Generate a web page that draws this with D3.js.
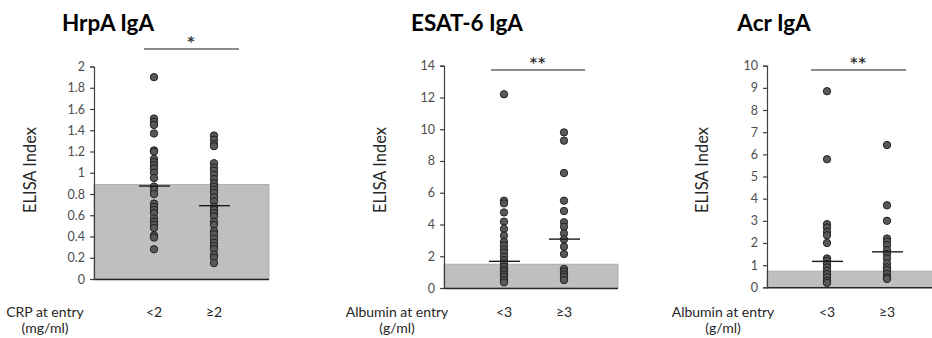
<!DOCTYPE html>
<html>
<head>
<meta charset="utf-8">
<title>IgA ELISA index</title>
<style>
  body { margin: 0; background: #fff; font-family: Lato, "Open Sans", sans-serif; }
  svg text { font-family: Lato, "Open Sans", sans-serif; }
  .tick text { fill: #4d4d4d; font-size: 12.5px; }
</style>
</head>
<body>
<div id="chart"></div>
<script src="https://cdn.jsdelivr.net/npm/d3@7"></script>
<script>
// ---- data ----
var titles = ["HrpA IgA", "ESAT-6 IgA", "Acr IgA"]
var groupLabels = [["<2", "\u22652"], ["<3", "\u22653"], ["<3", "\u22653"]]
var xTitles = [["CRP at entry", "(mg/ml)"], ["Albumin at entry", "(g/ml)"], ["Albumin at entry", "(g/ml)"]]
var yMax = [2, 14, 10]
var yStep = [0.2, 2, 1]
var cutoff = [0.89, 1.5, 0.73]
var stars = ["*", "**", "**"]

var hrpaLow = [1.9, 1.51, 1.48, 1.45, 1.37, 1.21, 1.2, 1.13, 1.1, 1.07, 1.04, 1.0, 0.95, 0.87, 0.84, 0.8,
  0.71, 0.68, 0.65, 0.62, 0.57, 0.54, 0.51, 0.48, 0.41, 0.39, 0.28]
var hrpaHigh = [1.35, 1.31, 1.27, 1.25, 1.09, 1.05, 1.02, 0.98, 0.94, 0.9, 0.87, 0.84, 0.81, 0.77, 0.73,
  0.68, 0.65, 0.62, 0.59, 0.54, 0.51, 0.45, 0.42, 0.38, 0.34, 0.31, 0.28, 0.23, 0.2, 0.15]
var esatLow = [12.2, 5.5, 5.33, 4.76, 4.18, 3.72, 3.3, 2.92, 2.67, 2.43, 2.22, 1.97, 1.76, 1.55, 1.34,
  1.15, 1.03, 0.85, 0.71, 0.5, 0.36]
var esatHigh = [9.8, 9.28, 7.24, 5.5, 4.85, 4.14, 3.86, 3.44, 3.06, 2.6, 2.14, 1.2, 1.03, 0.85, 0.71, 0.5]
var acrLow = [8.85, 5.78, 2.85, 2.7, 2.5, 2.35, 2.0, 1.3, 1.2, 1.05, 0.9, 0.75, 0.6, 0.45, 0.3, 0.2]
var acrHigh = [6.42, 3.7, 3.0, 2.2, 2.06, 1.9, 1.68, 1.5, 1.3, 1.08, 0.9, 0.78, 0.6, 0.45, 0.38]
var groupMeans = [[0.875, 0.69], [1.68, 3.08], [1.17, 1.6]]

var points = [[hrpaLow, hrpaHigh], [esatLow, esatHigh], [acrLow, acrHigh]]

// ---- layout per panel (pixels) ----
var layout = [
  { axisX: 94,  top: 66.5, bottom: 279, barW: 175, titleX: 108, yLabX: 30,  xTitleX: 45,  sig: [144, 239], sigY: 49 },
  { axisX: 444, top: 65.7, bottom: 288, barW: 174, titleX: 467, yLabX: 380, xTitleX: 397, sig: [491, 585], sigY: 70 },
  { axisX: 767, top: 65.7, bottom: 287.3, barW: 170, titleX: 774, yLabX: 702, xTitleX: 723, sig: [811, 906], sigY: 70 }
]

var svg = d3.select("#chart").append("svg")
  .attr("width", 932)
  .attr("height", 338)

layout.forEach(function(L, p) {
  var g = svg.append("g")

  var y = d3.scaleLinear().domain([0, yMax[p]]).range([L.bottom, L.top])
  var x = d3.scalePoint().domain(groupLabels[p]).range([L.axisX, L.axisX + 180]).padding(1)

  // grey cutoff bar
  g.append("rect")
    .attr("x", L.axisX)
    .attr("y", y(cutoff[p]))
    .attr("width", L.barW)
    .attr("height", y(0) - y(cutoff[p]))
    .attr("fill", "#bfbfbf")
    .attr("stroke", "#a6a6a6")
    .attr("stroke-width", 0.8)

  // baseline
  g.append("line")
    .attr("x1", L.axisX).attr("x2", L.axisX + L.barW)
    .attr("y1", L.bottom + 0.5).attr("y2", L.bottom + 0.5)
    .attr("stroke", "#262626").attr("stroke-width", 1.5)

  // y axis
  var ticks = d3.range(0, yMax[p] + yStep[p] / 2, yStep[p])
  var axis = g.append("g")
    .attr("transform", "translate(" + L.axisX + ",0)")
    .call(d3.axisLeft(y).tickValues(ticks).tickSize(4).tickPadding(5)
      .tickFormat(function(d) { return String(+d.toFixed(1)) }))
  axis.select(".domain").attr("stroke", "#404040").attr("stroke-width", 1.2)
  axis.selectAll(".tick line").attr("stroke", "#404040").attr("stroke-width", 1.2)

  // dots
  points[p].forEach(function(vals, k) {
    g.selectAll(null)
      .data(vals)
      .enter()
      .append("circle")
      .attr("cx", x(groupLabels[p][k]))
      .attr("cy", function(d) { return y(d) })
      .attr("r", 3.7)
      .attr("fill", "#595959")
      .attr("stroke", "#1a1a1a")
      .attr("stroke-width", 0.9)
  })

  // mean lines
  g.selectAll(null)
    .data(groupMeans[p])
    .enter()
    .append("line")
    .attr("x1", function(d, k) { return x(groupLabels[p][k]) - 15 })
    .attr("x2", function(d, k) { return x(groupLabels[p][k]) + 16 })
    .attr("y1", function(d) { return y(d) })
    .attr("y2", function(d) { return y(d) })
    .attr("stroke", "#1a1a1a")
    .attr("stroke-width", 1.4)

  // significance bar
  g.append("line")
    .attr("x1", L.sig[0]).attr("x2", L.sig[1])
    .attr("y1", L.sigY).attr("y2", L.sigY)
    .attr("stroke", "#1a1a1a").attr("stroke-width", 1.2)
  g.append("text")
    .attr("x", (L.sig[0] + L.sig[1]) / 2)
    .attr("y", L.sigY - 3)
    .attr("text-anchor", "middle")
    .style("font-family", "'DejaVu Sans', sans-serif")
    .attr("font-size", 14)
    .attr("font-weight", "bold")
    .attr("letter-spacing", 1)
    .attr("fill", "#333333")
    .text(stars[p])

  // title
  g.append("text")
    .attr("x", L.titleX)
    .attr("y", 31)
    .attr("text-anchor", "middle")
    .attr("font-size", 22.5)
    .attr("font-weight", "bold")
    .attr("fill", "#000")
    .text(titles[p])

  // y axis label
  g.append("text")
    .attr("transform", "translate(" + L.yLabX + "," + 170 + ") rotate(-90)")
    .attr("text-anchor", "middle")
    .attr("dy", "0.35em")
    .attr("font-size", 16.5)
    .attr("fill", "#262626")
    .text("ELISA Index")

  // x categories
  g.selectAll(null)
    .data(groupLabels[p])
    .enter()
    .append("text")
    .attr("x", function(d) { return x(d) })
    .attr("y", 317)
    .attr("text-anchor", "middle")
    .attr("font-size", 14)
    .attr("fill", "#262626")
    .text(function(d) { return d })

  // x title
  g.selectAll(null)
    .data(xTitles[p])
    .enter()
    .append("text")
    .attr("x", L.xTitleX)
    .attr("y", function(d, i) { return 317 + i * 16 })
    .attr("text-anchor", "middle")
    .attr("font-size", 14)
    .attr("fill", "#262626")
    .text(function(d) { return d })
})
</script>
</body>
</html>
